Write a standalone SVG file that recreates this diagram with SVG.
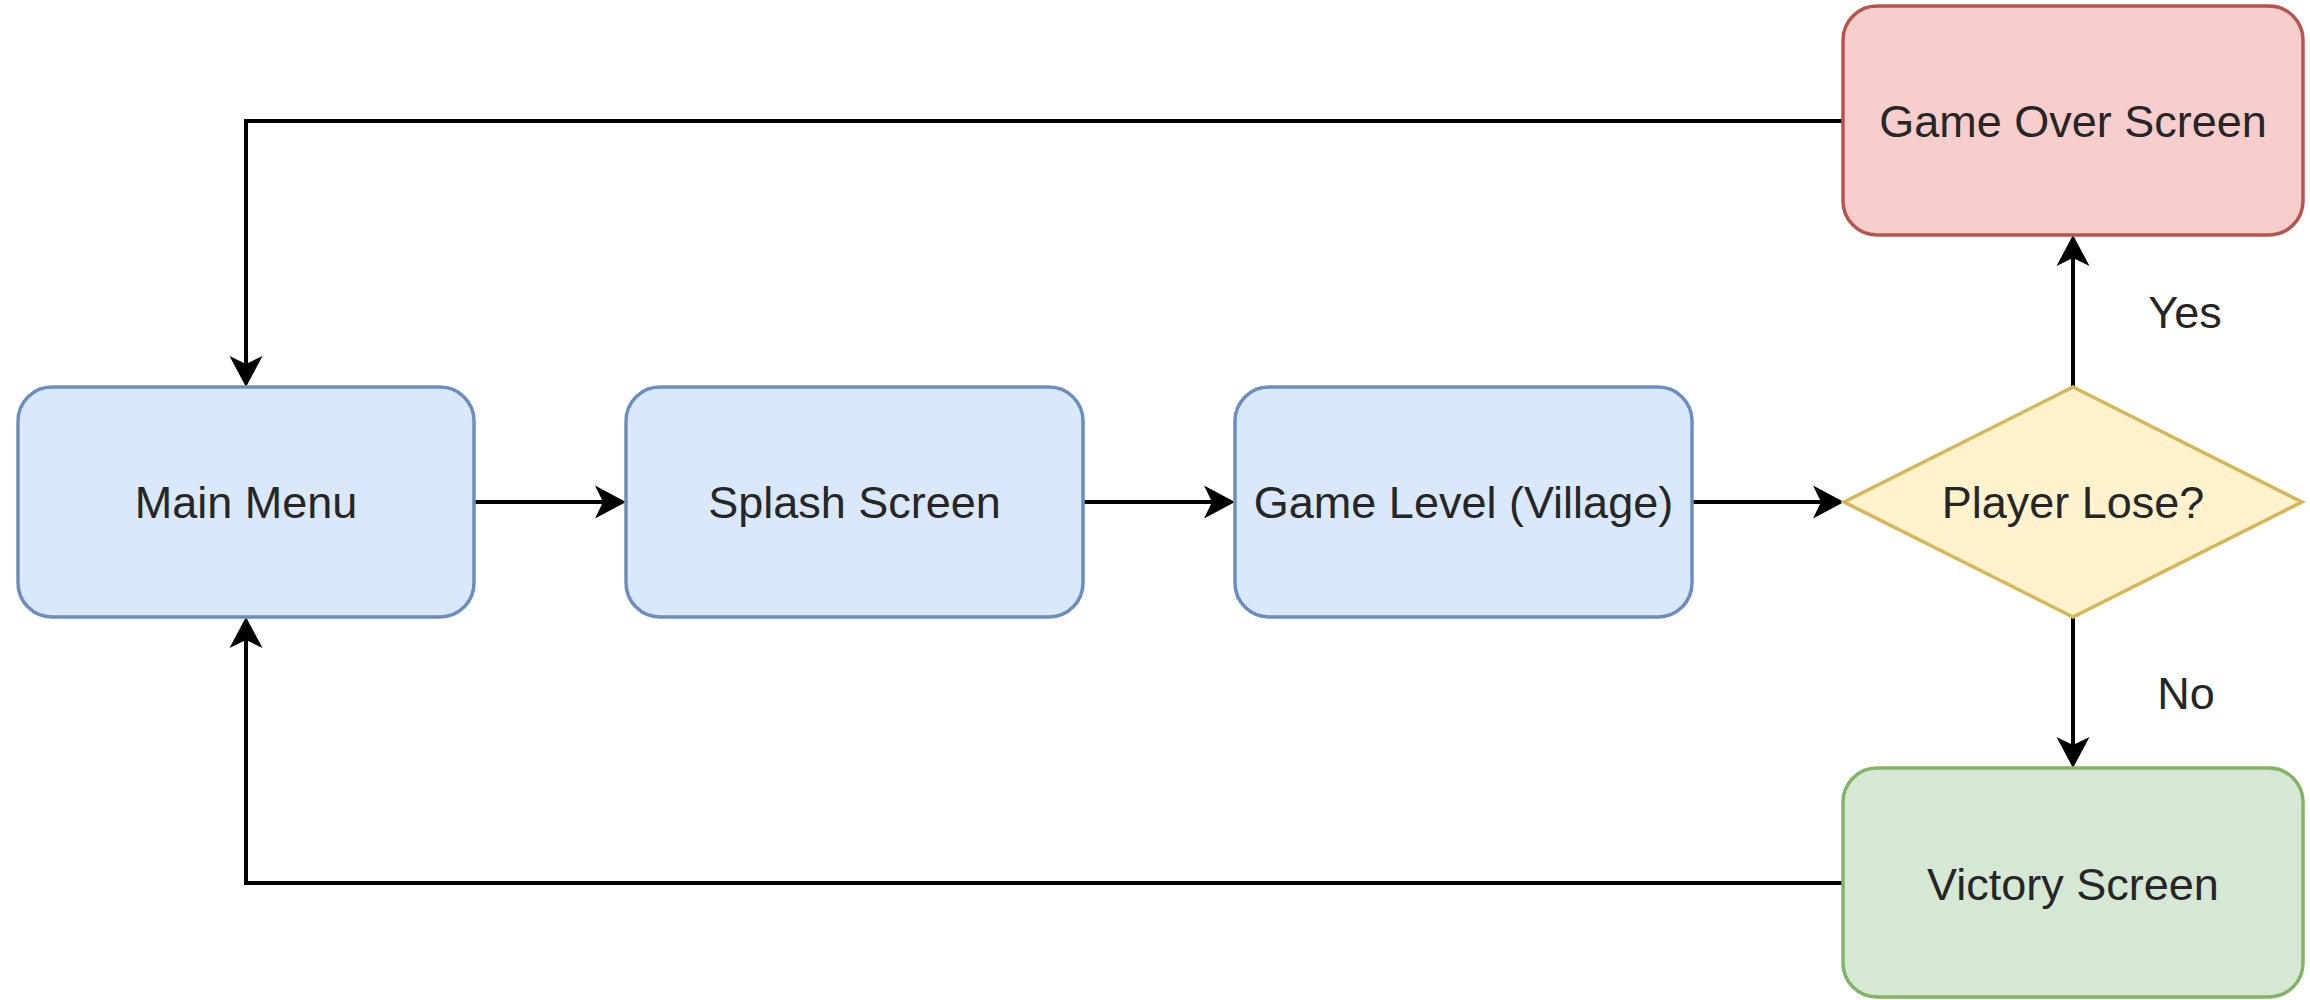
<svg xmlns="http://www.w3.org/2000/svg" width="2310" height="1000" viewBox="0 0 2310 1000">
<style>
.blue{fill:#dae8fc;stroke:#6c8ebf;stroke-width:3.5}
.red{fill:#f8cecc;stroke:#b85450;stroke-width:3.5}
.green{fill:#d5e8d4;stroke:#82b366;stroke-width:3.5}
.yellow{fill:#fff2cc;stroke:#d6b656;stroke-width:3.5}
.lbl{font-family:"Liberation Sans",Arial,Helvetica,sans-serif;font-size:45px;fill:#262626;text-anchor:middle}
.edge{fill:none;stroke:#000;stroke-width:4}
</style>
<defs>
<marker id="arr" markerUnits="userSpaceOnUse" viewBox="-32 -18 34 36" refX="-10" refY="0" markerWidth="34" markerHeight="36" orient="auto">
<path d="M0,0 L-31,-16.5 L-23,0 L-31,16.5 Z" fill="#000"/>
</marker>
</defs>
<rect width="2310" height="1000" fill="#ffffff"/>
<g id="connectors">
<path class="edge" d="M474,502 H616" marker-end="url(#arr)"/>
<path class="edge" d="M1083,502 H1225" marker-end="url(#arr)"/>
<path class="edge" d="M1692,502 H1834" marker-end="url(#arr)"/>
<path class="edge" d="M2073,387 V245" marker-end="url(#arr)"/>
<path class="edge" d="M2073,617 V758" marker-end="url(#arr)"/>
<path class="edge" d="M1843,121 H246 V377" marker-end="url(#arr)"/>
<path class="edge" d="M1843,883 H246 V627" marker-end="url(#arr)"/>
<text class="lbl" x="2185" y="328">Yes</text>
<text class="lbl" x="2186" y="709">No</text>
</g>
<g id="main-menu">
<rect class="blue" x="18" y="387" width="456" height="230" rx="34" ry="34"/>
<text class="lbl" x="246" y="518">Main Menu</text>
</g>
<g id="splash-screen">
<rect class="blue" x="626" y="387" width="457" height="230" rx="34" ry="34"/>
<text class="lbl" x="854.5" y="518">Splash Screen</text>
</g>
<g id="game-level">
<rect class="blue" x="1235" y="387" width="457" height="230" rx="34" ry="34"/>
<text class="lbl" x="1463.5" y="518">Game Level (Village)</text>
</g>
<g id="player-lose">
<polygon class="yellow" points="2073,387 2302,502 2073,617 1844,502"/>
<text class="lbl" x="2073" y="518">Player Lose?</text>
</g>
<g id="game-over">
<rect class="red" x="1843" y="6" width="460" height="229" rx="34" ry="34"/>
<text class="lbl" x="2073" y="137">Game Over Screen</text>
</g>
<g id="victory">
<rect class="green" x="1843" y="768" width="460" height="229" rx="34" ry="34"/>
<text class="lbl" x="2073" y="900">Victory Screen</text>
</g>
</svg>
